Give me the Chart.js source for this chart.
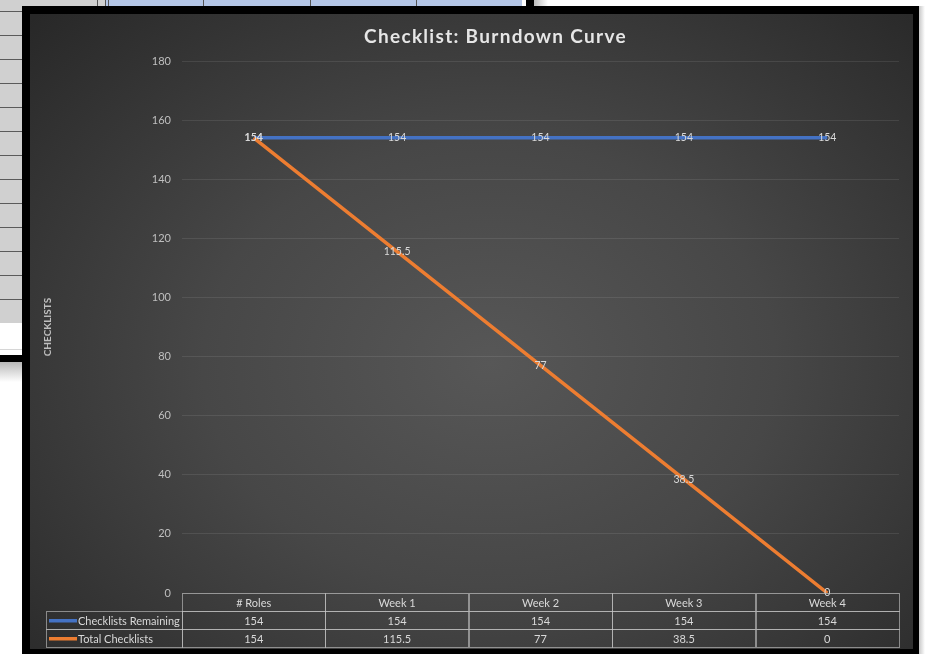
<!DOCTYPE html>
<html>
<head>
<meta charset="utf-8">
<script src="https://cdn.jsdelivr.net/npm/chart.js@4.4.1/dist/chart.umd.min.js"></script>
<style>
  html, body { margin: 0; padding: 0; width: 928px; height: 654px; overflow: hidden; background: #fff; }
  body { position: relative; }
  .sheetLeft { position: absolute; left: 0; top: 0; width: 22px; height: 323px;
    background: repeating-linear-gradient(to bottom, #d0d0d0 0px, #d0d0d0 23px, #5a5a5a 23px, #5a5a5a 24px);
    background-position: 0 -12px; }
  .sheetLeftLow { position: absolute; left: 0; top: 323px; width: 22px; height: 27px; background: #fff; border-bottom: 1px solid #d6d6d6; box-sizing: border-box; }
  .shadowBar { position: absolute; left: 0; top: 355px; width: 22px; height: 7px; background: #000; }
  .shadowFade { position: absolute; left: 0; top: 362px; width: 22px; height: 20px; background: linear-gradient(#b8b8b8, #fff); }
  .sheetTopGray { position: absolute; left: 0; top: 0; width: 97px; height: 6px; background: #d0d0d0; }
  .sheetTopLines { position: absolute; left: 97px; top: 0; width: 12px; height: 6px;
    background: linear-gradient(to right, #555 0 1px, #d0d0d0 1px 8px, #555 8px 9px, #b4c6e7 9px 11px, #555 11px 12px); }
  .sheetTopBlue { position: absolute; left: 109px; top: 0; width: 413px; height: 6px; background: #b4c6e7; }
  .sheetTopBlue i { position: absolute; top: 0; width: 1px; height: 6px; background: #555; }
  .sheetTopEdge { position: absolute; left: 526px; top: 0; width: 8px; height: 6px; background: #000; }
  .sheetTopFade { position: absolute; left: 534px; top: 0; width: 14px; height: 6px; background: linear-gradient(to right, #bbb, #fff); }
  .rightFade { position: absolute; left: 919px; top: 6px; width: 6px; height: 648px; background: linear-gradient(to right, #c8c8c8, #fff); }
  .frame { position: absolute; left: 22px; top: 6px; width: 897px; height: 648px; background: #000; }
  .plot { position: absolute; left: 30px; top: 14px; width: 883px; height: 635px;
    background: radial-gradient(ellipse 72% 78% at 52% 55%, #575757 0%, #474747 45%, #282828 100%); }
</style>
</head>
<body>
<div class="sheetLeft"></div>
<div class="sheetLeftLow"></div>
<div class="shadowBar"></div>
<div class="shadowFade"></div>
<div class="sheetTopGray"></div>
<div class="sheetTopLines"></div>
<div class="sheetTopBlue"><i style="left:94px"></i><i style="left:201px"></i><i style="left:307px"></i></div>
<div class="sheetTopEdge"></div>
<div class="sheetTopFade"></div>
<div class="rightFade"></div>
<div class="frame"></div>
<div class="plot"><canvas id="burndown" width="883" height="635"></canvas></div>

<script>
const chartTitle = 'Checklist: Burndown Curve';
const yAxisTitle = 'CHECKLISTS';
const categories = ['# Roles', 'Week 1', 'Week 2', 'Week 3', 'Week 4'];
const seriesNames = ['Checklists Remaining', 'Total Checklists'];
const remaining = [154, 154, 154, 154, 154];
const totalChecklists = [154, 115.5, 77, 38.5, 0];
const yMin = 0;
const yMax = 180;
const yStep = 20;

const blue = '#4472c4';
const orange = '#ed7d31';
const textGray = '#d9d9d9';
const fontFam = 'Lato, "Noto Sans", sans-serif';

// title, data labels, axis title and the data table under the plot
const tablePlugin = {
  id: 'tablePlugin',
  afterDatasetsDraw(chart) {
    const ctx = chart.ctx;
    ctx.save();
    ctx.font = '10.5px ' + fontFam;
    ctx.fillStyle = textGray;
    ctx.textAlign = 'center';
    ctx.textBaseline = 'middle';
    [1, 0].forEach(di => {
      const meta = chart.getDatasetMeta(di);
      const vals = chart.data.datasets[di].data;
      meta.data.forEach((pt, i) => {
        ctx.fillText(String(vals[i]), pt.x, pt.y);
      });
    });
    ctx.restore();
  },
  afterDraw(chart) {
    const ctx = chart.ctx;
    const ca = chart.chartArea;
    const xs = chart.scales.x;
    const n = categories.length;
    const cellW = (ca.right - ca.left) / n;
    const rowH = 18;
    const top = Math.round(ca.bottom);
    const legendLeft = 16;

    // chart title (letter spaced like the Excel one)
    ctx.save();
    ctx.font = 'bold 19px ' + fontFam;
    ctx.fillStyle = '#e6e6e6';
    ctx.textAlign = 'center';
    ctx.textBaseline = 'middle';
    ctx.letterSpacing = '1.3px';
    ctx.fillText(chartTitle, chart.width / 2 + 24, 23);
    ctx.restore();

    // y axis title
    ctx.save();
    ctx.translate(18, (ca.top + ca.bottom) / 2);
    ctx.rotate(-Math.PI / 2);
    ctx.font = 'bold 10px ' + fontFam;
    ctx.fillStyle = '#bfbfbf';
    ctx.textAlign = 'center';
    ctx.textBaseline = 'middle';
    ctx.fillText(yAxisTitle, 0, 0);
    ctx.restore();

    ctx.save();
    ctx.strokeStyle = 'rgba(200,200,200,0.6)';
    ctx.lineWidth = 1;
    ctx.font = '11px ' + fontFam;
    ctx.fillStyle = textGray;
    ctx.textBaseline = 'middle';

    // header row
    ctx.textAlign = 'center';
    categories.forEach((c, i) => {
      const cx = xs.getPixelForValue(i);
      ctx.strokeRect(Math.round(cx - cellW / 2) + 0.5, top + 0.5, Math.round(cellW), rowH);
      ctx.fillText(c, cx, top + rowH / 2 + 1);
    });

    const rows = [remaining, totalChecklists];
    const colors = [blue, orange];
    rows.forEach((vals, r) => {
      const y = top + rowH * (r + 1);
      ctx.strokeRect(legendLeft + 0.5, y + 0.5, Math.round(ca.left) - legendLeft, rowH);
      ctx.fillStyle = colors[r];
      ctx.fillRect(legendLeft + 3, y + rowH / 2 - 1, 28, 3.5);
      ctx.fillStyle = textGray;
      ctx.textAlign = 'left';
      ctx.fillText(seriesNames[r], legendLeft + 32, y + rowH / 2 + 1);
      ctx.textAlign = 'center';
      vals.forEach((v, i) => {
        const cx = xs.getPixelForValue(i);
        ctx.strokeRect(Math.round(cx - cellW / 2) + 0.5, y + 0.5, Math.round(cellW), rowH);
        ctx.fillText(String(v), cx, y + rowH / 2 + 1);
      });
    });
    ctx.restore();
  }
};

new Chart(document.getElementById('burndown'), {
  type: 'line',
  data: {
    labels: categories,
    datasets: [
      {
        label: seriesNames[0],
        data: remaining,
        borderColor: blue,
        backgroundColor: blue,
        borderWidth: 3.5,
        pointRadius: 0,
        tension: 0,
        order: 1
      },
      {
        label: seriesNames[1],
        data: totalChecklists,
        borderColor: orange,
        backgroundColor: orange,
        borderWidth: 3.5,
        pointRadius: 0,
        tension: 0,
        order: 0
      }
    ]
  },
  options: {
    responsive: false,
    animation: false,
    layout: { padding: { left: 61, right: 14, top: 47, bottom: 56 } },
    plugins: {
      legend: { display: false },
      tooltip: { enabled: false },
      title: { display: false }
    },
    scales: {
      x: {
        display: false,
        offset: true
      },
      y: {
        min: yMin,
        max: yMax,
        afterFit(scale) { scale.width = 91; },
        ticks: {
          stepSize: yStep,
          padding: 11,
          color: '#bfbfbf',
          font: { family: fontFam, size: 11 }
        },
        grid: {
          color: 'rgba(255,255,255,0.09)',
          drawTicks: false
        },
        border: { display: false }
      }
    }
  },
  plugins: [tablePlugin]
});
</script>
</body>
</html>
